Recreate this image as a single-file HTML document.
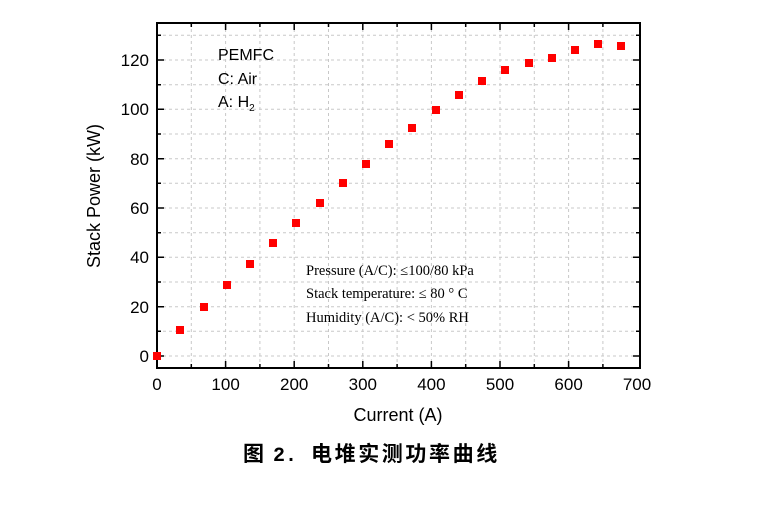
<!DOCTYPE html><html><head><meta charset="utf-8"><style>body{margin:0;background:#fff}</style></head><body>
<svg width="761" height="508" xmlns="http://www.w3.org/2000/svg" font-family="Liberation Sans, Arial, sans-serif">
<g stroke="#c8c8c8" stroke-width="1" stroke-dasharray="3,3">
<line x1="191.3" y1="23" x2="191.3" y2="368"/><line x1="225.6" y1="23" x2="225.6" y2="368"/><line x1="259.9" y1="23" x2="259.9" y2="368"/><line x1="294.2" y1="23" x2="294.2" y2="368"/><line x1="328.5" y1="23" x2="328.5" y2="368"/><line x1="362.8" y1="23" x2="362.8" y2="368"/><line x1="397.1" y1="23" x2="397.1" y2="368"/><line x1="431.4" y1="23" x2="431.4" y2="368"/><line x1="465.7" y1="23" x2="465.7" y2="368"/><line x1="500" y1="23" x2="500" y2="368"/><line x1="534.3" y1="23" x2="534.3" y2="368"/><line x1="568.6" y1="23" x2="568.6" y2="368"/><line x1="602.9" y1="23" x2="602.9" y2="368"/>
<line x1="157" y1="356" x2="640" y2="356"/><line x1="157" y1="331.3" x2="640" y2="331.3"/><line x1="157" y1="306.7" x2="640" y2="306.7"/><line x1="157" y1="282" x2="640" y2="282"/><line x1="157" y1="257.3" x2="640" y2="257.3"/><line x1="157" y1="232.7" x2="640" y2="232.7"/><line x1="157" y1="208" x2="640" y2="208"/><line x1="157" y1="183.3" x2="640" y2="183.3"/><line x1="157" y1="158.7" x2="640" y2="158.7"/><line x1="157" y1="134" x2="640" y2="134"/><line x1="157" y1="109.3" x2="640" y2="109.3"/><line x1="157" y1="84.7" x2="640" y2="84.7"/><line x1="157" y1="60" x2="640" y2="60"/><line x1="157" y1="35.3" x2="640" y2="35.3"/>
</g>
<rect x="157" y="23" width="483" height="345" fill="none" stroke="#000" stroke-width="2"/>
<g stroke="#000" stroke-width="1.5">
<path d="M157 368v-7M225.6 368v-7M294.2 368v-7M362.8 368v-7M431.4 368v-7M500 368v-7M568.6 368v-7M191.3 368v-4M259.9 368v-4M328.5 368v-4M397.1 368v-4M465.7 368v-4M534.3 368v-4M602.9 368v-4"/>
<path d="M225.6 23v7M294.2 23v7M362.8 23v7M431.4 23v7M500 23v7M568.6 23v7M191.3 23v4M259.9 23v4M328.5 23v4M397.1 23v4M465.7 23v4M534.3 23v4M602.9 23v4"/>
<path d="M157 356h7M157 306.7h7M157 257.3h7M157 208h7M157 158.7h7M157 109.3h7M157 60h7M157 331.3h4M157 282h4M157 232.7h4M157 183.3h4M157 134h4M157 84.7h4M157 35.3h4"/>
<path d="M640 356h-7M640 306.7h-7M640 257.3h-7M640 208h-7M640 158.7h-7M640 109.3h-7M640 60h-7M640 331.3h-4M640 282h-4M640 232.7h-4M640 183.3h-4M640 134h-4M640 84.7h-4M640 35.3h-4"/>
</g>
<g font-size="17" text-anchor="middle" fill="#000">
<text x="157" y="390">0</text><text x="225.6" y="390">100</text><text x="294.2" y="390">200</text><text x="362.8" y="390">300</text><text x="431.4" y="390">400</text><text x="500" y="390">500</text><text x="568.6" y="390">600</text><text x="637" y="390">700</text>
</g>
<g font-size="17" text-anchor="end" fill="#000">
<text x="149" y="362">0</text><text x="149" y="313">20</text><text x="149" y="263">40</text><text x="149" y="214">60</text><text x="149" y="165">80</text><text x="149" y="115">100</text><text x="149" y="66">120</text>
</g>
<text x="398" y="421" font-size="18" text-anchor="middle">Current (A)</text>
<text transform="translate(100,196) rotate(-90)" font-size="18" text-anchor="middle">Stack Power (kW)</text>
<g font-size="16"><text x="218" y="60">PEMFC</text><text x="218" y="84">C: Air</text><text x="218" y="107">A: H<tspan font-size="10" dy="4">2</tspan></text></g>
<g font-family="Liberation Serif, serif" font-size="14.5"><text x="306" y="275">Pressure (A/C): ≤100/80 kPa</text><text x="306" y="298">Stack temperature: ≤ 80 ° C</text><text x="306" y="322">Humidity (A/C): &lt; 50% RH</text></g>
<g fill="#f00">
<rect x="153" y="352" width="8" height="8"/><rect x="176" y="326" width="8" height="8"/><rect x="200" y="303" width="8" height="8"/><rect x="223" y="281" width="8" height="8"/><rect x="246" y="260" width="8" height="8"/><rect x="269" y="239" width="8" height="8"/><rect x="292" y="219" width="8" height="8"/><rect x="316" y="199" width="8" height="8"/><rect x="339" y="179" width="8" height="8"/><rect x="362" y="160" width="8" height="8"/><rect x="385" y="140" width="8" height="8"/><rect x="408" y="124" width="8" height="8"/><rect x="432" y="106" width="8" height="8"/><rect x="455" y="91" width="8" height="8"/><rect x="478" y="77" width="8" height="8"/><rect x="501" y="66" width="8" height="8"/><rect x="525" y="59" width="8" height="8"/><rect x="548" y="54" width="8" height="8"/><rect x="571" y="46" width="8" height="8"/><rect x="594" y="40" width="8" height="8"/><rect x="617" y="42" width="8" height="8"/>
</g>
<g font-family="'Noto Sans CJK SC', sans-serif" font-weight="bold" font-size="21" fill="#000">
<text x="243" y="461">图</text>
<text x="273" y="461" font-family="Liberation Mono, monospace" font-size="20">2.</text>
<text x="311" y="461" letter-spacing="2.6">电堆实测功率曲线</text>
</g>
</svg>
</body></html>
